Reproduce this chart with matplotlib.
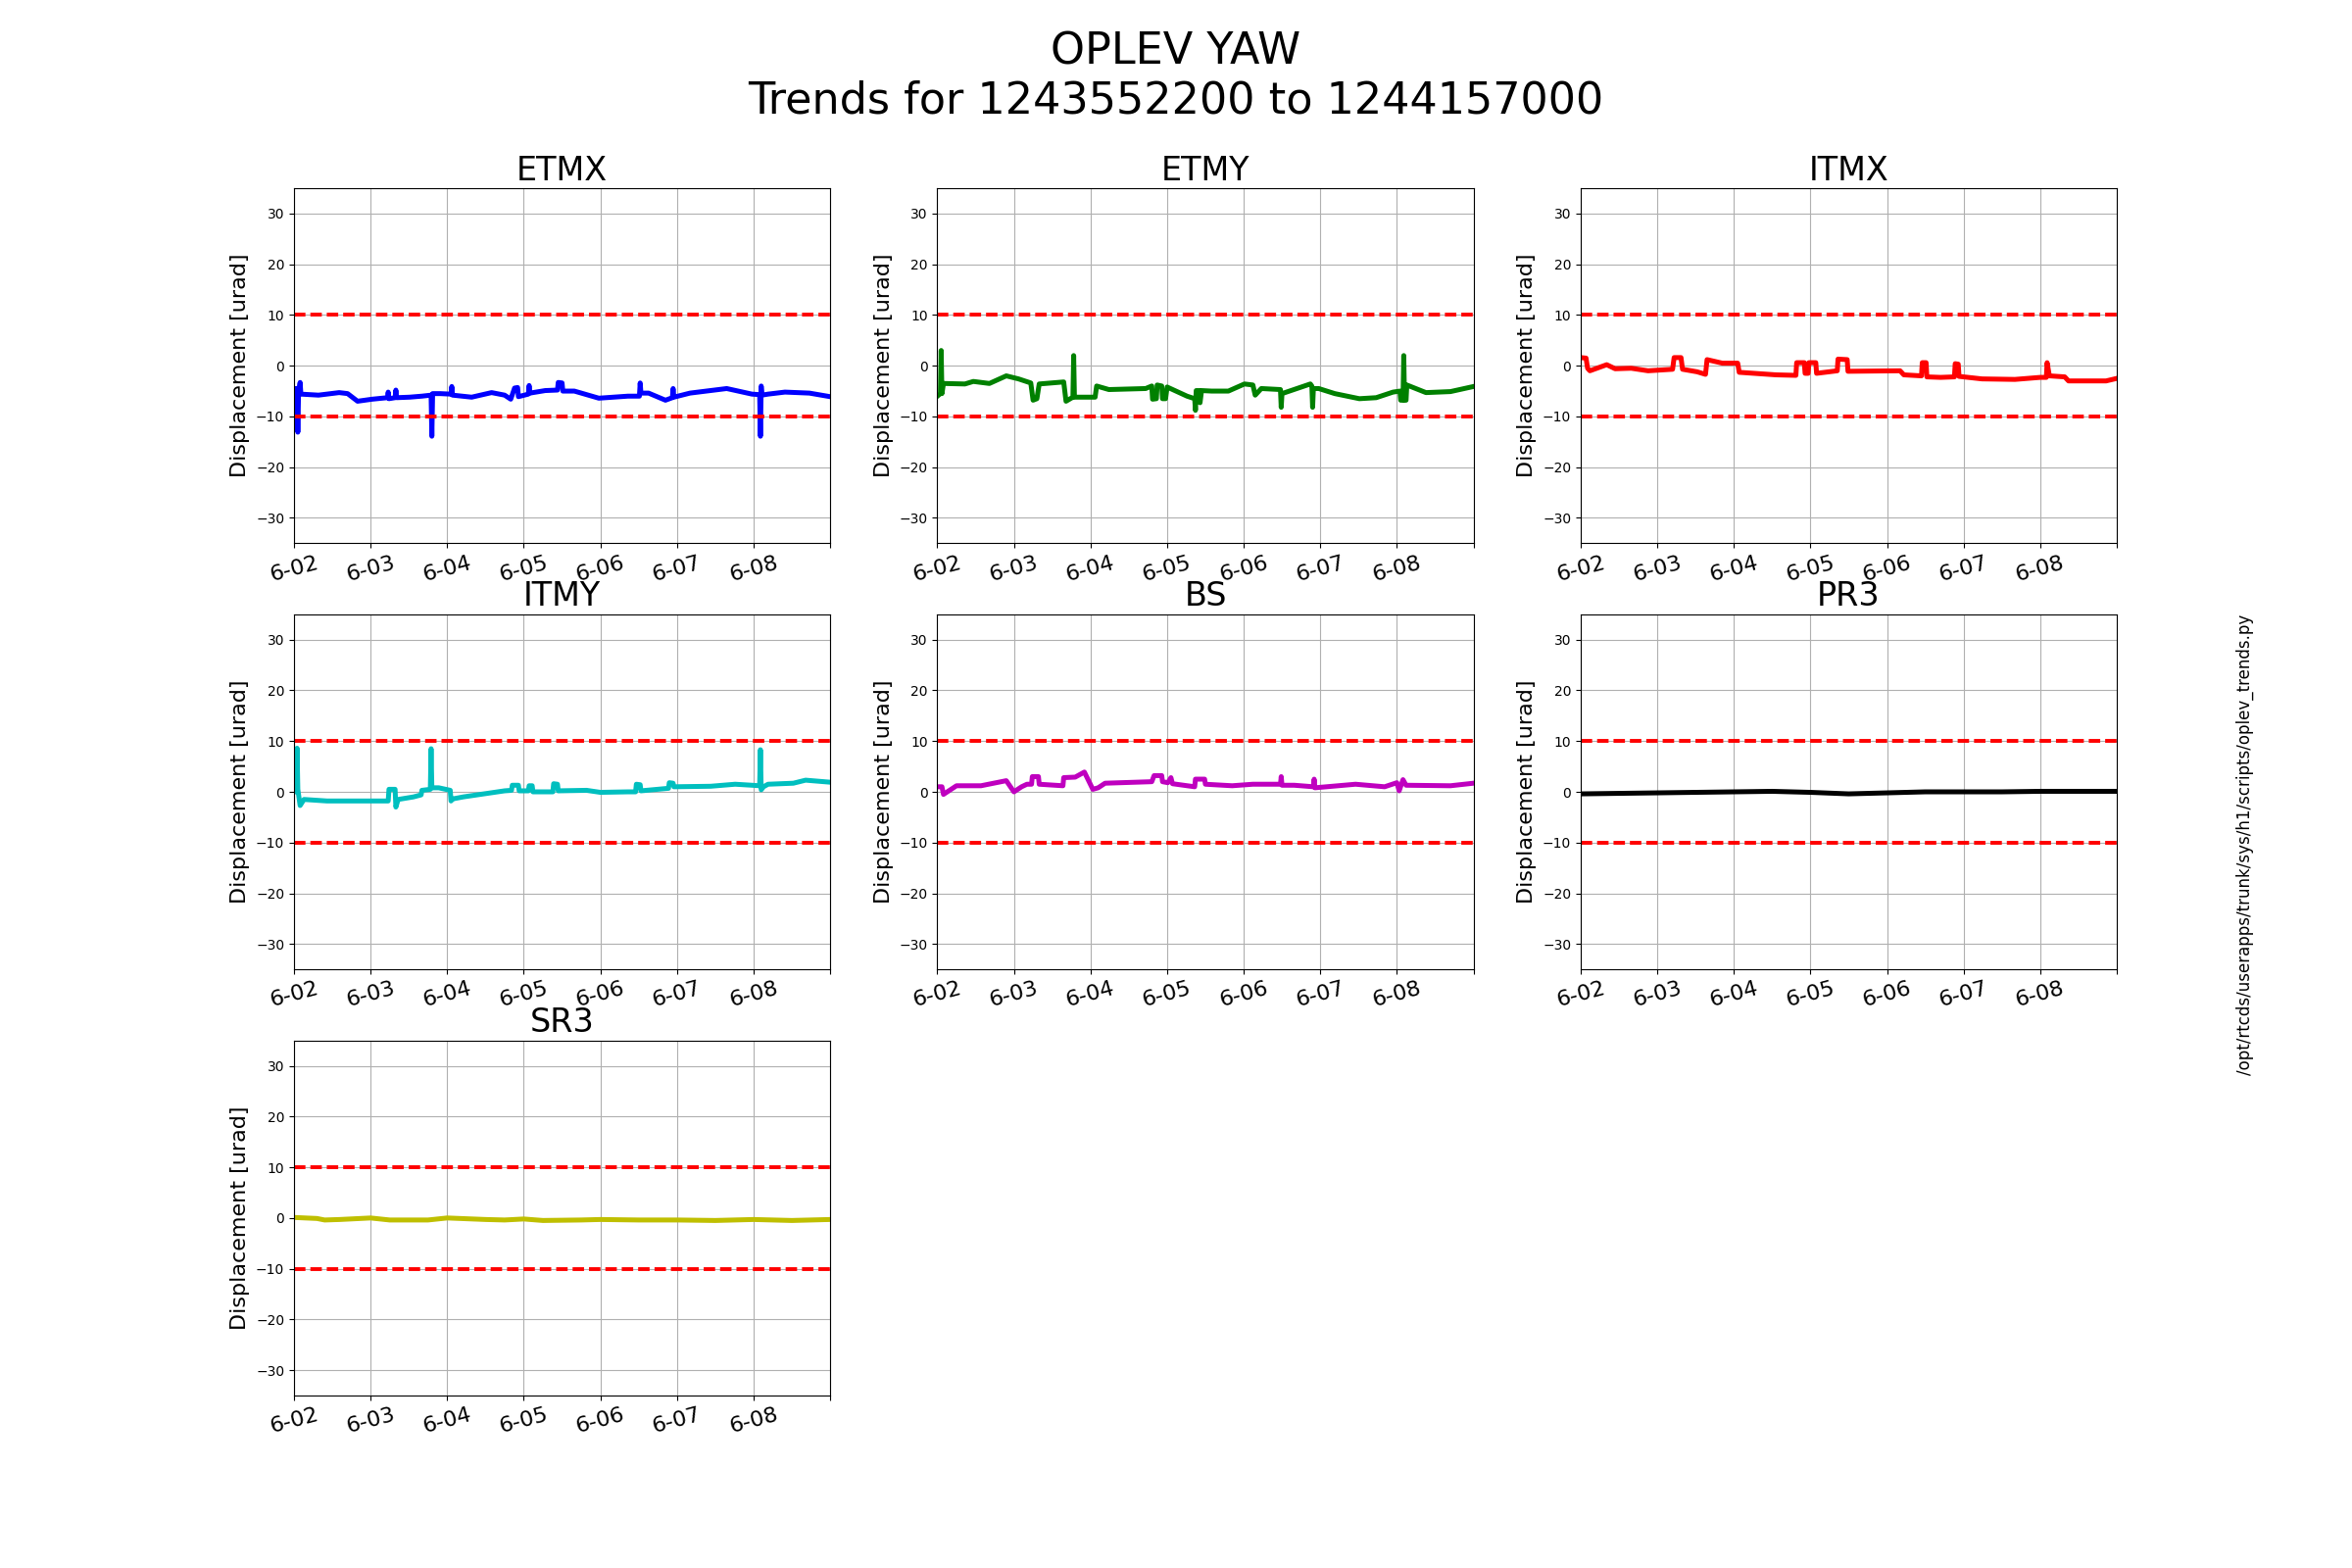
import matplotlib
matplotlib.use("Agg")
from matplotlib import pyplot as plt

# time axis in days from 1243552200, tick labels are the local dates
day_ticks = [0, 1, 2, 3, 4, 5, 6, 7]
day_labels = ["6-02", "6-03", "6-04", "6-05", "6-06", "6-07", "6-08", ""]

optics = ["ETMX", "ETMY", "ITMX", "ITMY", "BS", "PR3", "SR3"]
colors = ["b", "g", "r", "c", "m", "k", "y"]

etmx_t = [0.00, 0.04, 0.05, 0.06, 0.08, 0.09, 0.32, 0.59, 0.70, 0.83, 1.02, 1.22, 1.23, 1.24, 1.32,
          1.33, 1.34, 1.51, 1.67, 1.79, 1.80, 1.81, 1.91, 2.05, 2.06, 2.07, 2.32, 2.58, 2.75, 2.83,
          2.88, 2.92, 2.93, 3.06, 3.07, 3.08, 3.28, 3.44, 3.45, 3.50, 3.51, 3.66, 3.98, 4.36, 4.51,
          4.52, 4.53, 4.63, 4.85, 4.94, 4.95, 4.96, 5.17, 5.65, 5.98, 6.08, 6.09, 6.10, 6.11, 6.19,
          6.41, 6.73, 7.00]
etmx_v = [-4.5, -4.5, -13.1, -5.0, -3.3, -5.6, -5.8, -5.3, -5.5, -7.0, -6.6, -6.3, -5.2, -6.5, -6.3,
          -4.8, -6.3, -6.2, -6.0, -5.8, -13.9, -5.5, -5.5, -5.6, -4.1, -5.8, -6.2, -5.3, -5.8, -6.6,
          -4.4, -4.3, -6.1, -5.6, -3.9, -5.4, -4.9, -4.8, -3.3, -3.4, -5.0, -5.0, -6.4, -6.0, -6.0,
          -3.4, -5.4, -5.4, -6.8, -6.3, -4.5, -6.2, -5.4, -4.5, -5.6, -5.7, -13.9, -4.0, -5.8, -5.6,
          -5.2, -5.4, -6.1]

etmy_t = [0.00, 0.04, 0.05, 0.06, 0.08, 0.36, 0.47, 0.68, 0.90, 1.06, 1.22, 1.25, 1.30, 1.33, 1.65,
          1.68, 1.77, 1.78, 1.79, 2.06, 2.08, 2.24, 2.72, 2.80, 2.81, 2.86, 2.87, 2.93, 2.94, 2.98,
          3.00, 3.26, 3.36, 3.37, 3.38, 3.42, 3.43, 3.45, 3.58, 3.80, 4.01, 4.12, 4.15, 4.23, 4.48,
          4.49, 4.50, 4.87, 4.89, 4.90, 4.91, 4.98, 5.19, 5.51, 5.73, 5.95, 6.04, 6.05, 6.08, 6.09,
          6.10, 6.12, 6.13, 6.38, 6.70, 7.00]
etmy_v = [-6.0, -5.5, 3.0, -5.5, -3.5, -3.6, -3.1, -3.5, -2.0, -2.6, -3.4, -6.8, -6.5, -3.6, -3.2,
          -7.0, -6.2, 2.0, -6.2, -6.2, -4.0, -4.7, -4.5, -4.0, -6.6, -6.5, -3.8, -4.0, -6.5, -6.5,
          -4.2, -6.0, -6.5, -8.8, -4.9, -4.9, -7.3, -4.9, -5.0, -5.0, -3.6, -3.8, -5.8, -4.5, -4.7,
          -8.2, -5.5, -3.6, -4.0, -8.2, -4.5, -4.5, -5.5, -6.5, -6.3, -5.2, -5.0, -6.8, -6.8, 2.0,
          -6.8, -6.8, -3.8, -5.3, -5.1, -4.1]

itmx_t = [0.00, 0.07, 0.09, 0.12, 0.34, 0.45, 0.66, 0.88, 1.20, 1.22, 1.31, 1.33, 1.52, 1.63, 1.65,
          1.85, 2.05, 2.07, 2.55, 2.81, 2.82, 2.92, 2.93, 2.97, 2.98, 3.07, 3.08, 3.35, 3.36, 3.48,
          3.49, 4.17, 4.22, 4.45, 4.46, 4.51, 4.52, 4.70, 4.88, 4.89, 4.93, 4.94, 5.24, 5.67, 6.00,
          6.08, 6.09, 6.12, 6.32, 6.37, 6.86, 7.00]
itmx_v = [1.6, 1.5, -0.5, -1.0, 0.2, -0.6, -0.5, -1.0, -0.7, 1.6, 1.6, -0.7, -1.2, -1.7, 1.2,
          0.5, 0.5, -1.3, -1.8, -1.9, 0.6, 0.6, -1.5, -1.5, 0.6, 0.6, -1.5, -1.0, 1.3, 1.2,
          -1.1, -1.0, -1.8, -2.0, 0.6, 0.6, -2.2, -2.3, -2.2, 0.4, 0.3, -2.1, -2.6, -2.7, -2.3,
          -2.3, 0.6, -2.0, -2.2, -3.0, -3.0, -2.5]

itmy_t = [0.00, 0.03, 0.04, 0.05, 0.08, 0.13, 0.43, 1.13, 1.23, 1.24, 1.32, 1.33, 1.36, 1.56, 1.66,
          1.67, 1.78, 1.79, 1.80, 1.89, 2.04, 2.05, 2.07, 2.21, 2.75, 2.84, 2.85, 2.93, 2.94, 3.06,
          3.07, 3.11, 3.12, 3.38, 3.39, 3.44, 3.45, 3.82, 4.00, 4.36, 4.46, 4.47, 4.52, 4.53, 4.89,
          4.90, 4.95, 4.96, 5.44, 5.76, 5.98, 6.08, 6.09, 6.10, 6.13, 6.19, 6.52, 6.68, 7.00]
itmy_v = [0.0, 0.0, 8.6, 0.5, -2.7, -1.5, -1.8, -1.8, -1.8, 0.5, 0.5, -3.0, -1.5, -1.0, -0.6,
          0.3, 0.5, 8.5, 0.8, 0.8, 0.3, -1.8, -1.4, -1.0, 0.2, 0.3, 1.3, 1.3, 0.2, 0.2,
          1.2, 1.2, 0.0, 0.0, 1.6, 1.5, 0.2, 0.3, -0.1, 0.0, 0.0, 1.5, 1.4, 0.2, 0.7,
          1.8, 1.7, 1.0, 1.1, 1.5, 1.3, 1.2, 8.3, 0.4, 1.0, 1.5, 1.7, 2.3, 1.9]

bs_t = [0.00, 0.06, 0.08, 0.25, 0.57, 0.90, 1.00, 1.10, 1.17, 1.23, 1.24, 1.32, 1.33, 1.64, 1.65,
        1.80, 1.92, 2.03, 2.10, 2.19, 2.80, 2.83, 2.93, 2.94, 3.01, 3.05, 3.07, 3.36, 3.37, 3.49,
        3.50, 3.85, 4.12, 4.48, 4.49, 4.50, 4.66, 4.91, 4.92, 4.93, 5.46, 5.84, 6.00, 6.03, 6.08,
        6.12, 6.70, 7.00]
bs_v = [1.0, 1.0, -0.5, 1.2, 1.2, 2.2, 0.0, 1.0, 1.5, 1.5, 3.0, 3.0, 1.5, 1.2, 2.8,
        2.9, 3.9, 0.5, 0.8, 1.7, 2.0, 3.2, 3.2, 2.0, 1.8, 2.8, 1.6, 1.0, 2.5, 2.5,
        1.5, 1.2, 1.5, 1.5, 3.0, 1.3, 1.3, 1.0, 2.5, 0.8, 1.5, 1.0, 1.8, 0.2, 2.4,
        1.3, 1.2, 1.7]

pr3_t = [0.0, 0.5, 1.0, 1.5, 2.0, 2.5, 3.0, 3.5, 4.0, 4.5, 5.0, 5.5, 6.0, 6.5, 7.0]
pr3_v = [-0.4, -0.3, -0.2, -0.1, 0.0, 0.1, -0.1, -0.4, -0.2, 0.0, 0.0, 0.0, 0.1, 0.1, 0.1]

sr3_t = [0.0, 0.3, 0.4, 0.6, 1.0, 1.25, 1.75, 2.0, 2.5, 2.75, 3.0, 3.25, 3.75, 4.0, 4.5, 5.0,
         5.5, 6.0, 6.5, 7.0]
sr3_v = [0.1, -0.1, -0.4, -0.3, 0.0, -0.4, -0.4, 0.0, -0.3, -0.4, -0.2, -0.5, -0.4, -0.3, -0.4,
         -0.4, -0.5, -0.3, -0.5, -0.3]

limits = [10, -10]

times = [etmx_t, etmy_t, itmx_t, itmy_t, bs_t, pr3_t, sr3_t]
values = [etmx_v, etmy_v, itmx_v, itmy_v, bs_v, pr3_v, sr3_v]

fig, axes = plt.subplots(3, 3, figsize=(24, 16))
fig.suptitle("OPLEV YAW\nTrends for 1243552200 to 1244157000", fontsize=32)

for i, ax in enumerate(axes.flat):
    if i >= len(optics):
        ax.remove()
        continue
    ax.plot(times[i], values[i], color=colors[i], linewidth=3.6)
    for lim in limits:
        ax.axhline(lim, color="r", linestyle="--", linewidth=2.8, dashes=(3.0, 1.3))
    ax.set_xlim(day_ticks[0], day_ticks[-1])
    ax.set_ylim(-35, 35)
    ax.set_xticks(day_ticks)
    ax.set_xticklabels(day_labels, rotation=15, fontsize=16)
    ax.set_ylabel("Displacement [urad]", fontsize=16)
    ax.set_title(optics[i], fontsize=24)
    ax.grid(True)

fig.text(0.9545, 0.4615, "/opt/rtcds/userapps/trunk/sys/h1/scripts/oplev_trends.py",
         rotation=90, fontsize=12, ha="center", va="center")

fig.savefig("out.png", dpi=100)
